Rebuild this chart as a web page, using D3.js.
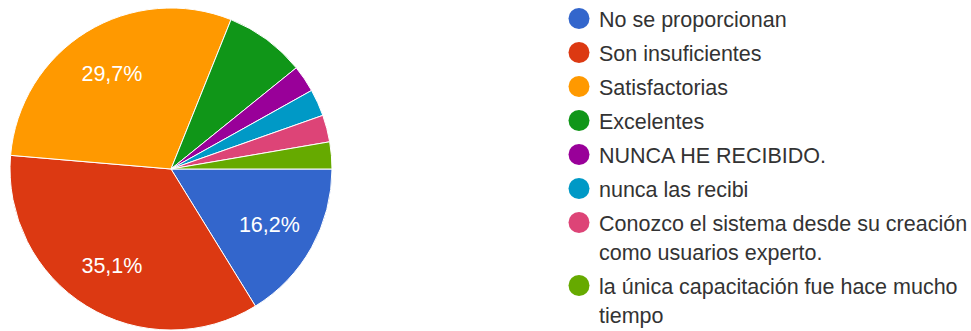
<!DOCTYPE html>
<html>
<head>
<meta charset="utf-8">
<script src="https://cdn.jsdelivr.net/npm/d3@7"></script>
<style>
  html, body { margin: 0; padding: 0; background: #fff; }
  svg { display: block; font-family: "Liberation Sans", Arial, sans-serif; }
</style>
</head>
<body>
<svg id="chart" width="971" height="331"></svg>
<script>
// Answer categories and response counts (37 responses)
const categories = [
  "No se proporcionan",
  "Son insuficientes",
  "Satisfactorias",
  "Excelentes",
  "NUNCA HE RECIBIDO.",
  "nunca las recibi",
  "Conozco el sistema desde su creación como usuarios experto.",
  "la única capacitación fue hace mucho tiempo"
];
const counts = [6, 13, 11, 3, 1, 1, 1, 1];
const colors = ["#3366cc", "#dc3912", "#ff9900", "#109618", "#990099", "#0099c6", "#dd4477", "#66aa00"];

const svg = d3.select("#chart");
const cx = 171, cy = 169, radius = 161;
const total = d3.sum(counts);
const data = categories.map((c, i) => ({ name: c, value: counts[i], color: colors[i] }));

// Slices run clockwise starting at 3 o'clock
const pie = d3.pie()
  .value(d => d.value)
  .sort(null)
  .startAngle(Math.PI / 2)
  .endAngle(Math.PI / 2 + 2 * Math.PI);

const arcs = pie(data);
const arc = d3.arc().innerRadius(0).outerRadius(radius);
const labelArc = d3.arc().innerRadius(radius * 0.7).outerRadius(radius * 0.7);

const g = svg.append("g").attr("transform", `translate(${cx},${cy})`);

g.selectAll("path.slice")
  .data(arcs)
  .join("path")
  .attr("class", "slice")
  .attr("d", arc)
  .attr("fill", d => d.data.color)
  .attr("stroke", "#fff")
  .attr("stroke-width", 1);

const fmt = v => (v * 100).toFixed(1).replace(".", ",") + "%";

g.selectAll("text.pct")
  .data(arcs.filter(d => d.data.value / total >= 0.1))
  .join("text")
  .attr("class", "pct")
  .attr("transform", d => `translate(${labelArc.centroid(d)})`)
  .attr("text-anchor", "middle")
  .attr("dy", "0.36em")
  .attr("fill", "#fff")
  .attr("font-size", 21.5)
  .text(d => fmt(d.data.value / total));

// Legend with word-wrapped labels
const legendX = 579, textX = 599, maxTextW = 372;
const lineH = 29, entryPad = 5;
const legend = svg.append("g");
let baseline = 26.5;

data.forEach(d => {
  const item = legend.append("g");
  const txt = item.append("text")
    .attr("x", textX)
    .attr("y", baseline)
    .attr("font-size", 21.5)
    .attr("fill", "#333");
  const words = d.name.split(" ");
  let line = [];
  let tspan = txt.append("tspan").attr("x", textX).attr("y", baseline);
  let lines = 1;
  words.forEach(w => {
    line.push(w);
    tspan.text(line.join(" "));
    if (tspan.node().getComputedTextLength() > maxTextW && line.length > 1) {
      line.pop();
      tspan.text(line.join(" "));
      line = [w];
      tspan = txt.append("tspan")
        .attr("x", textX)
        .attr("y", baseline + lines * lineH)
        .text(w);
      lines++;
    }
  });
  item.append("circle")
    .attr("cx", legendX)
    .attr("cy", baseline - 8)
    .attr("r", 10.5)
    .attr("fill", d.color);
  baseline += lines * lineH + entryPad;
});
</script>
</body>
</html>
